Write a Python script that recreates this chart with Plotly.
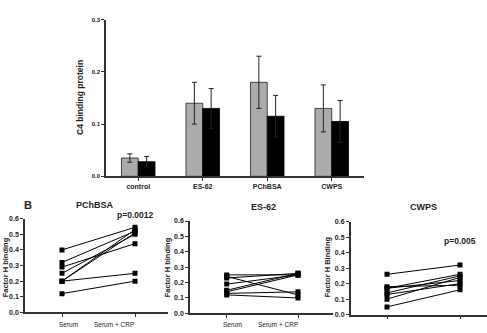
import plotly.graph_objects as go

W, H = 487, 333

# ---- Panel A data ----
categories = ["control", "ES-62", "PChBSA", "CWPS"]
gray_vals = [0.035, 0.14, 0.18, 0.13]
gray_err = [0.008, 0.04, 0.05, 0.045]
black_vals = [0.028, 0.13, 0.115, 0.105]
black_err = [0.010, 0.038, 0.040, 0.040]
a_yticks = [0.0, 0.1, 0.2, 0.3]

# ---- Panel B data (paired: Serum -> Serum + CRP) ----
pair_labels = ["Serum", "Serum + CRP"]
pchbsa_serum = [0.40, 0.32, 0.29, 0.25, 0.20, 0.20, 0.20, 0.12]
pchbsa_crp = [0.545, 0.52, 0.44, 0.50, 0.53, 0.51, 0.25, 0.20]
es62_serum = [0.25, 0.24, 0.23, 0.19, 0.15, 0.14, 0.13, 0.12]
es62_crp = [0.25, 0.12, 0.26, 0.25, 0.26, 0.25, 0.14, 0.10]
cwps_serum = [0.26, 0.18, 0.17, 0.17, 0.14, 0.13, 0.10, 0.05]
cwps_crp = [0.32, 0.19, 0.22, 0.26, 0.25, 0.20, 0.24, 0.16]
b_yticks = [0.0, 0.1, 0.2, 0.3, 0.4, 0.5, 0.6]

FONT = "Liberation Sans, Arial, sans-serif"
AX = "#333333"


def px_x(p):
    return p / W


def px_y(p):
    return 1 - p / H


fig = go.Figure()

# Panel A bars
fig.add_trace(go.Bar(
    x=categories, y=gray_vals, marker=dict(color="#ababab", line=dict(color="#222", width=0.8)),
    error_y=dict(type="data", array=gray_err, color="#222", thickness=1, width=2.5),
    xaxis="x", yaxis="y", showlegend=False))
fig.add_trace(go.Bar(
    x=categories, y=black_vals, marker=dict(color="#000000", line=dict(color="#000", width=0.8)),
    error_y=dict(type="data", array=black_err, color="#222", thickness=1, width=2.5),
    xaxis="x", yaxis="y", showlegend=False))

# Panel B paired lines
panels = [
    (pchbsa_serum, pchbsa_crp, "x2", "y2"),
    (es62_serum, es62_crp, "x3", "y3"),
    (cwps_serum, cwps_crp, "x4", "y4"),
]
for s_vals, c_vals, xa, ya in panels:
    for s, c in zip(s_vals, c_vals):
        fig.add_trace(go.Scatter(
            x=[0, 1], y=[s, c], mode="lines+markers",
            line=dict(color="#000", width=1),
            marker=dict(symbol="square", size=5, color="#000"),
            xaxis=xa, yaxis=ya, showlegend=False, hoverinfo="skip"))

axis_common = dict(showgrid=False, zeroline=False, showline=True, linecolor=AX,
                   linewidth=1.5, ticks="outside", tickcolor=AX, ticklen=3, tickwidth=1)

layout = dict(
    width=W, height=H, margin=dict(l=0, r=0, t=0, b=0),
    paper_bgcolor="white", plot_bgcolor="white",
    barmode="group", bargap=0.48, bargroupgap=0.0,
    font=dict(family=FONT, color="#222"),
    xaxis=dict(domain=[px_x(106), px_x(364)], anchor="y",
               tickfont=dict(size=7, weight="bold"), **axis_common),
    yaxis=dict(domain=[px_y(176), px_y(16)], anchor="x", range=[0, 0.3],
               tickvals=a_yticks, tickformat=".1f",
               tickfont=dict(size=6, weight="bold"), **axis_common),
)

b_axes = [
    ("xaxis2", "yaxis2", "x2", "y2", (25, 168), (219.3, 315), (62, 135)),
    ("xaxis3", "yaxis3", "x3", "y3", (190, 333), (221.7, 316), (226.7, 298)),
    ("xaxis4", "yaxis4", "x4", "y4", (350.7, 487), (222.3, 317.3), (387, 460)),
]
for xk, yk, xn, yn, (xl, xr), (yt, yb), (t0, t1) in b_axes:
    step = t1 - t0
    layout[xk] = dict(domain=[px_x(xl), px_x(xr)], anchor=yn,
                      range=[(xl - t0) / step, (xr - t0) / step],
                      tickvals=[0, 1], ticktext=["", ""], **axis_common)
    layout[yk] = dict(domain=[px_y(yb), px_y(yt)], anchor=xn, range=[0, 0.6],
                      tickvals=b_yticks, tickformat=".1f",
                      tickfont=dict(size=7, weight="bold"), **axis_common)

fig.update_layout(**layout)


def ann(text, x, y, size, angle=0, bold=True):
    fig.add_annotation(text=f"<b>{text}</b>" if bold else text,
                       x=px_x(x), y=px_y(y), xref="paper", yref="paper",
                       showarrow=False, textangle=angle,
                       font=dict(size=size, family=FONT, color="#222"),
                       xanchor="center", yanchor="middle")


ann("C4 binding protein", 80, 96, 8.5, angle=-90)
ann("B", 28, 205, 11)
ann("PChBSA", 95, 205, 9)
ann("ES-62", 263, 207, 9)
ann("CWPS", 423, 207, 9)
ann("p=0.0012", 135, 216, 8.5)
ann("p=0.005", 460, 242, 8.5)
ann("Factor H binding", 5, 269, 7.5, angle=-90)
ann("Factor H binding", 167, 269, 7.5, angle=-90)
ann("Factor H Binding", 327, 269, 7.5, angle=-90)
ann("Serum", 68, 327.5, 6.5, bold=False)
ann("Serum + CRP", 114, 327.5, 6.5, bold=False)
ann("Serum", 232, 327.5, 6.5, bold=False)
ann("Serum + CRP", 278, 327.5, 6.5, bold=False)

fig.write_html("out.html")
